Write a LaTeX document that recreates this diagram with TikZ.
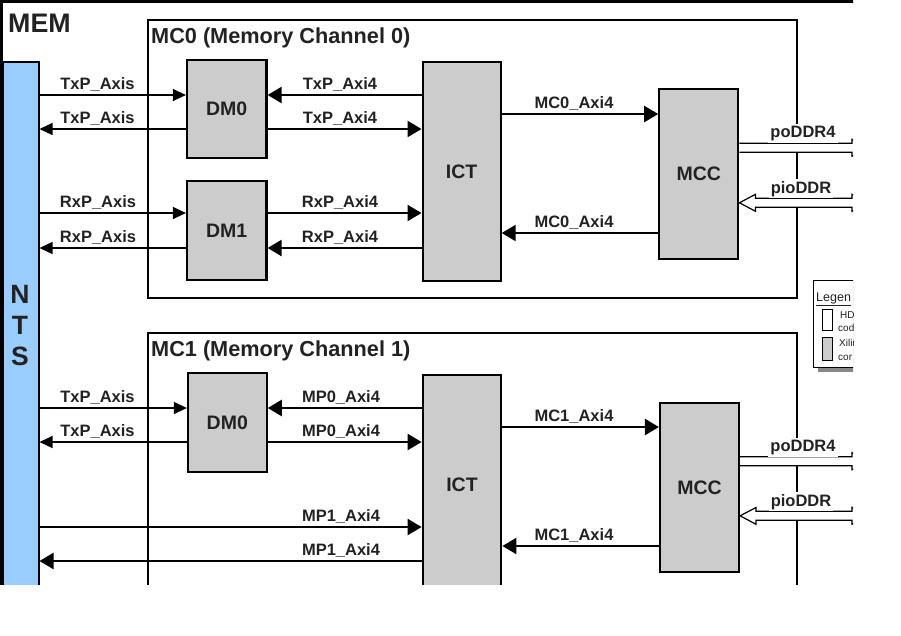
\documentclass[tikz,border=0pt]{standalone}
\usepackage{fontspec}
\setmainfont{Liberation Sans}
\usetikzlibrary{arrows.meta}
\definecolor{ntsblue}{HTML}{99CCFF}
\definecolor{boxgray}{HTML}{CCCCCC}
\definecolor{txt}{HTML}{222222}
\definecolor{shadowgray}{HTML}{888888}
\begin{document}
\begin{tikzpicture}[x=1pt,y=-1pt,
  box/.style={draw=black, fill=boxgray, line width=2.2pt, inner sep=0pt,
    font=\fontsize{19.5}{22}\selectfont\bfseries, text=txt},
  frame/.style={draw=black, line width=2pt},
  thinarr/.style={line width=1.2pt, -{Triangle[length=13pt,width=12pt]}},
  thickarr/.style={line width=2.3pt, -{Triangle[length=14pt,width=16pt]}},
  lbl/.style={font=\fontsize{16.5}{19}\selectfont\bfseries, text=txt, anchor=base, inner sep=0pt},
  wlbl/.style={lbl, fill=white, inner sep=2pt},
  ttl/.style={font=\fontsize{21.7}{25}\selectfont\bfseries, text=txt, anchor=base west, inner sep=0pt},
  ddr/.style={draw=black, fill=white, line width=1.2pt},
  legtxt/.style={font=\fontsize{10}{11}\selectfont, text=txt, anchor=base west, inner sep=0pt},
]
\useasboundingbox (0,0) rectangle (901,635);
\begin{scope}
\clip (0,0) rectangle (853,584.5);
% MEM frame
\draw[line width=3pt] (1.5,1.5) rectangle (880,650);
\node[ttl, font=\fontsize{26.8}{30}\selectfont\bfseries] (memt) at (8,32.3) {MEM};
% NTS
\node[draw=black, fill=ntsblue, line width=1.5pt, minimum width=36pt, minimum height=600pt,
  anchor=north west, inner sep=0pt] (nts) at (2,61) {};
\node[align=center, font=\fontsize{26.5}{31}\selectfont\bfseries, text=txt, inner sep=0pt] (ntst) at (20,326) {N\\T\\S};
% MC frames
\draw[frame] (148,20) rectangle (797,298);
\node[ttl] (mc0t) at (151,43.5) {MC0 (Memory Channel 0)};
\draw[frame] (148,333) rectangle (797,611);
\node[ttl] (mc1t) at (151,356.5) {MC1 (Memory Channel 1)};
% MC0 boxes
\node[box, minimum width=79.5pt, minimum height=98pt] (dm0) at (226.75,109) {DM0};
\node[box, minimum width=79.5pt, minimum height=99pt] (dm1) at (226.75,230.5) {DM1};
\node[box, minimum width=78pt, minimum height=218.7pt] (ict0) at (461.6,171.3) {ICT};
\node[box, minimum width=79pt, minimum height=170pt] (mcc0) at (698.8,174) {MCC};
% MC1 boxes
\node[box, minimum width=78.7pt, minimum height=99pt] (dm0b) at (227.3,422.7) {DM0};
\node[box, minimum width=78.6pt, minimum height=220pt] (ict1) at (462,485) {ICT};
\node[box, minimum width=79pt, minimum height=168.4pt] (mcc1) at (699.5,487.5) {MCC};
% MC0 connectors
\draw[thinarr] (nts.east |- 0,95) -- (dm0.west |- 0,95);
\draw[thinarr] (dm0.west |- 0,129) -- (nts.east |- 0,129);
\draw[thinarr] (nts.east |- 0,213) -- (dm1.west |- 0,213);
\draw[thinarr] (dm1.west |- 0,248) -- (nts.east |- 0,248);
\draw[thickarr] (ict0.west |- 0,95) -- (dm0.east |- 0,95);
\draw[thickarr] (dm0.east |- 0,129) -- (ict0.west |- 0,129);
\draw[thickarr] (dm1.east |- 0,213) -- (ict0.west |- 0,213);
\draw[thickarr] (ict0.west |- 0,248) -- (dm1.east |- 0,248);
\draw[thickarr] (ict0.east |- 0,114) -- (mcc0.west |- 0,114);
\draw[thickarr] (mcc0.west |- 0,233) -- (ict0.east |- 0,233);
% MC1 connectors
\draw[thinarr] (nts.east |- 0,408) -- (dm0b.west |- 0,408);
\draw[thinarr] (dm0b.west |- 0,442) -- (nts.east |- 0,442);
\draw[thickarr] (ict1.west |- 0,408) -- (dm0b.east |- 0,408);
\draw[thickarr] (dm0b.east |- 0,442) -- (ict1.west |- 0,442);
\draw[thickarr] (nts.east |- 0,527) -- (ict1.west |- 0,527);
\draw[thickarr] (ict1.west |- 0,561) -- (nts.east |- 0,561);
\draw[thickarr] (ict1.east |- 0,427) -- (mcc1.west |- 0,427);
\draw[thickarr] (mcc1.west |- 0,546) -- (ict1.east |- 0,546);
% DDR interface arrows MC0
\draw[ddr] (mcc0.east |- 0,143.3) -- (852,143.3) -- (852,139.3) -- (870,147.8) -- (852,156.3) -- (852,152.3) -- (mcc0.east |- 0,152.3);
\draw[ddr] (mcc0.east |- 0,202.8) -- (755.5,194.3) -- (755.5,198.3) -- (852,198.3) -- (852,194.3) -- (870,202.8) -- (852,211.3) -- (852,207.3) -- (755.5,207.3) -- (755.5,211.3) -- cycle;
% DDR interface arrows MC1
\draw[ddr] (mcc1.east |- 0,456.7) -- (852,456.7) -- (852,452.7) -- (870,461.2) -- (852,469.7) -- (852,465.7) -- (mcc1.east |- 0,465.7);
\draw[ddr] (mcc1.east |- 0,515.8) -- (756,507.5) -- (756,511.3) -- (852,511.3) -- (852,507.3) -- (870,515.8) -- (852,524.3) -- (852,520.3) -- (756,520.3) -- (756,524.3) -- cycle;
% labels MC0
\node[lbl] (l01) at (97.5,89) {TxP\_Axis};
\node[lbl] (l02) at (97.5,123) {TxP\_Axis};
\node[lbl] (l03) at (98,207) {RxP\_Axis};
\node[lbl] (l04) at (98,242) {RxP\_Axis};
\node[lbl] (l05) at (340,89) {TxP\_Axi4};
\node[lbl] (l06) at (340,123) {TxP\_Axi4};
\node[lbl] (l07) at (340,207) {RxP\_Axi4};
\node[lbl] (l08) at (340,242) {RxP\_Axi4};
\node[lbl] (l09) at (574,108) {MC0\_Axi4};
\node[lbl] (l10) at (574,227) {MC0\_Axi4};
\node[wlbl] (l11) at (803,137.5) {poDDR4};
\node[wlbl] (l12) at (801,193) {pioDDR};
% labels MC1
\node[lbl] (l21) at (97.5,402) {TxP\_Axis};
\node[lbl] (l22) at (97.5,436) {TxP\_Axis};
\node[lbl] (l23) at (341,402) {MP0\_Axi4};
\node[lbl] (l24) at (341,436) {MP0\_Axi4};
\node[lbl] (l25) at (341,521) {MP1\_Axi4};
\node[lbl] (l26) at (341,555) {MP1\_Axi4};
\node[lbl] (l27) at (574,421) {MC1\_Axi4};
\node[lbl] (l28) at (574,540) {MC1\_Axi4};
\node[wlbl] (l29) at (803,451.5) {poDDR4};
\node[wlbl] (l30) at (801,506) {pioDDR};
% legend
\fill[shadowgray] (817.7,285) rectangle (880,372.3);
\draw[fill=white, line width=0.8pt] (813.3,280) rectangle (880,367.3);
\node[anchor=base west, inner sep=0pt, font=\fontsize{12.5}{14}\selectfont, text=txt] (legt) at (816,301) {\underline{Legen}};
\draw[line width=0.8pt, fill=white] (822.3,309.3) rectangle (832.7,330.7);
\draw[line width=0.8pt, fill=boxgray] (822.3,337.7) rectangle (832.7,360);
\node[legtxt] (lg1) at (840,318) {HD};
\node[legtxt] (lg2) at (838,331.5) {cod};
\node[legtxt] (lg3) at (839,346) {Xilin};
\node[legtxt] (lg4) at (838,360) {cor};
\end{scope}
\end{tikzpicture}
\end{document}
